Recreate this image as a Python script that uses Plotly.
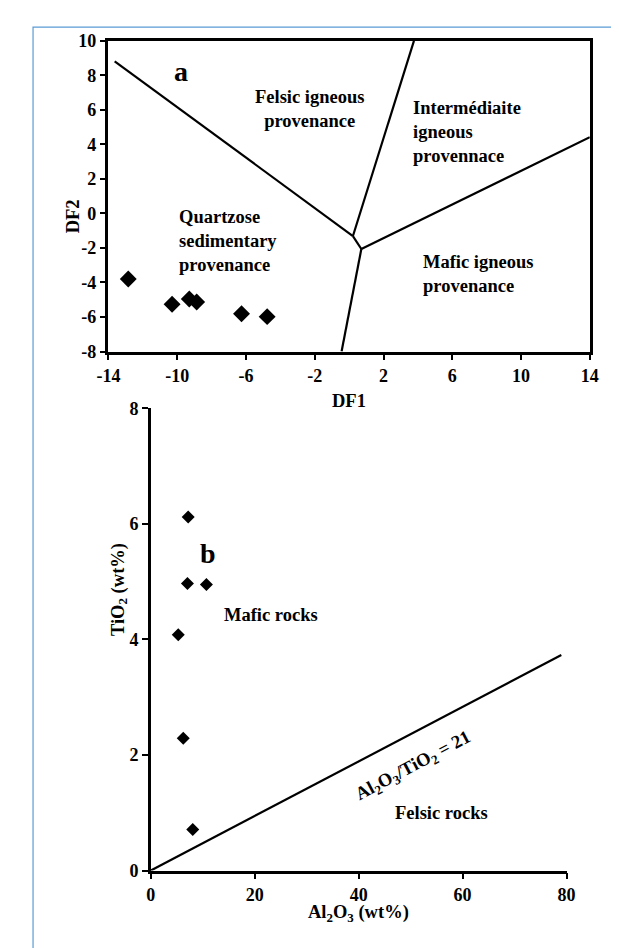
import plotly.graph_objects as go

# ---------------- data: panel a (discriminant function diagram) ----------------
df1_values = [-12.85, -10.3, -9.3, -8.87, -6.26, -4.77]
df2_values = [-3.8, -5.26, -4.96, -5.13, -5.81, -5.98]

# boundary lines (DF1, DF2 vertices)
bound_felsic_quartz_x = [-13.64, 0.22]
bound_felsic_quartz_y = [8.81, -1.31]
bound_felsic_inter_x = [0.22, 3.77]
bound_felsic_inter_y = [-1.31, 10.0]
bound_short_x = [0.22, 0.71]
bound_short_y = [-1.31, -2.06]
bound_inter_mafic_x = [0.71, 14.0]
bound_inter_mafic_y = [-2.06, 4.42]
bound_mafic_quartz_x = [0.71, -0.44]
bound_mafic_quartz_y = [-2.06, -8.0]

top_xticks = [-14, -10, -6, -2, 2, 6, 10, 14]
top_xlabels = ["-14", "-10", "-6", "-2", "2", "6", "10", "14"]
top_yticks = [-8, -6, -4, -2, 0, 2, 4, 6, 8, 10]
top_ylabels = ["-8", "-6", "-4", "-2", "0", "2", "4", "6", "8", "10"]

# ---------------- data: panel b (Al2O3 vs TiO2) ----------------
al2o3_values = [7.19, 7.05, 10.7, 5.28, 6.24, 8.07]
tio2_values = [6.12, 4.97, 4.95, 4.08, 2.29, 0.71]

ratio_line_x = [0, 79]
ratio_line_y = [0, 3.73]

bot_xticks = [0, 20, 40, 60, 80]
bot_yticks = [0, 2, 4, 6, 8]

FONT = "Liberation Serif, Times New Roman, serif"
W, H = 619, 948

fig = go.Figure()

line_style = dict(color="black", width=2.2)
for bx, by in [
    (bound_felsic_quartz_x, bound_felsic_quartz_y),
    (bound_felsic_inter_x, bound_felsic_inter_y),
    (bound_short_x, bound_short_y),
    (bound_inter_mafic_x, bound_inter_mafic_y),
    (bound_mafic_quartz_x, bound_mafic_quartz_y),
]:
    fig.add_trace(go.Scatter(x=bx, y=by, mode="lines", line=line_style,
                             xaxis="x", yaxis="y", showlegend=False, hoverinfo="skip"))

fig.add_trace(go.Scatter(x=df1_values, y=df2_values, mode="markers",
                         marker=dict(symbol="diamond", size=13, color="black"),
                         xaxis="x", yaxis="y", showlegend=False))

fig.add_trace(go.Scatter(x=ratio_line_x, y=ratio_line_y, mode="lines", line=line_style,
                         xaxis="x2", yaxis="y2", showlegend=False, hoverinfo="skip"))
fig.add_trace(go.Scatter(x=al2o3_values, y=tio2_values, mode="markers",
                         marker=dict(symbol="diamond", size=10, color="black"),
                         xaxis="x2", yaxis="y2", showlegend=False))

tickfont = dict(family=FONT, size=18, color="black", weight="bold")
axis_common = dict(showgrid=False, zeroline=False, showline=True, linecolor="black",
                   linewidth=2.5, ticks="outside", ticklen=6, tickwidth=1.5,
                   tickcolor="black", tickfont=tickfont)

fig.update_layout(
    width=W, height=H,
    margin=dict(l=0, r=0, t=0, b=0),
    paper_bgcolor="white", plot_bgcolor="white",
    xaxis=dict(domain=[91.6 / W, 589.8 / W], range=[-14, 14], tickvals=top_xticks,
               ticktext=top_xlabels, mirror=True, anchor="y", **axis_common),
    yaxis=dict(domain=[1 - 340.7 / H, 1 - 23.3 / H], range=[-8, 10], tickvals=top_yticks,
               ticktext=top_ylabels, mirror=True, anchor="x", **axis_common),
    xaxis2=dict(domain=[135.4 / W, 565.7 / W], range=[0, 80], tickvals=bot_xticks,
                anchor="y2", **axis_common),
    yaxis2=dict(domain=[1 - 870.9 / H, 1 - 398.8 / H], range=[0, 8], tickvals=bot_yticks,
                anchor="x2", **axis_common),
)

lab = dict(family=FONT, size=18.5, color="black", weight="bold")
big = dict(family=FONT, size=28, color="black", weight="bold")
ann = []
# panel a labels
ann.append(dict(x=-9.78, y=8.2, xref="x", yref="y", text="a", showarrow=False, font=big))
ann.append(dict(x=-2.33, y=6.03, xref="x", yref="y", text="Felsic igneous<br>provenance",
                showarrow=False, font=lab, align="center"))
ann.append(dict(x=3.6, y=4.7, xref="x", yref="y", xanchor="left",
                text="Intermédiaite<br>igneous<br>provennace", showarrow=False, font=lab, align="left"))
ann.append(dict(x=-10.0, y=-1.59, xref="x", yref="y", xanchor="left",
                text="Quartzose<br>sedimentary<br>provenance", showarrow=False, font=lab, align="left"))
ann.append(dict(x=4.2, y=-3.5, xref="x", yref="y", xanchor="left",
                text="Mafic igneous<br>provenance", showarrow=False, font=lab, align="left"))
# panel b labels
ann.append(dict(x=11.0, y=5.48, xref="x2", yref="y2", text="b", showarrow=False, font=big))
ann.append(dict(x=13.7, y=4.43, xref="x2", yref="y2", xanchor="left", text="Mafic rocks",
                showarrow=False, font=lab))
ann.append(dict(x=46.6, y=0.99, xref="x2", yref="y2", xanchor="left", text="Felsic rocks",
                showarrow=False, font=lab))
ann.append(dict(x=50.6, y=1.8, xref="x2", yref="y2",
                text="Al<sub>2</sub>O<sub>3</sub>/TiO<sub>2</sub> = 21", textangle=-28,
                showarrow=False, font=lab))
# axis titles
tfont = dict(family=FONT, size=18.5, color="black", weight="bold")
ann.append(dict(x=43.4 / W, y=1 - 183.3 / H, xref="paper", yref="paper", text="DF2",
                textangle=-90, showarrow=False, font=tfont))
ann.append(dict(x=340.3 / W, y=1 - 390.9 / H, xref="paper", yref="paper", text="DF1",
                showarrow=False, font=tfont))
ann.append(dict(x=88.8 / W, y=1 - 633.6 / H, xref="paper", yref="paper",
                text="TiO<sub>2</sub> (wt%)", textangle=-90, showarrow=False, font=tfont))
ann.append(dict(x=350.2 / W, y=1 - 927.5 / H, xref="paper", yref="paper",
                text="Al<sub>2</sub>O<sub>3</sub> (wt%)", showarrow=False, font=tfont,
                borderpad=0))
fig.update_layout(annotations=ann)

# light blue frame around the figure (bottom edge cut off)
fig.add_shape(type="rect", xref="paper", yref="paper",
              x0=13.5 / W, x1=618 / W, y0=-0.02, y1=1 - 9.3 / H,
              line=dict(color="#5b9bd5", width=1.2), layer="below")

fig.write_html("out.html")
